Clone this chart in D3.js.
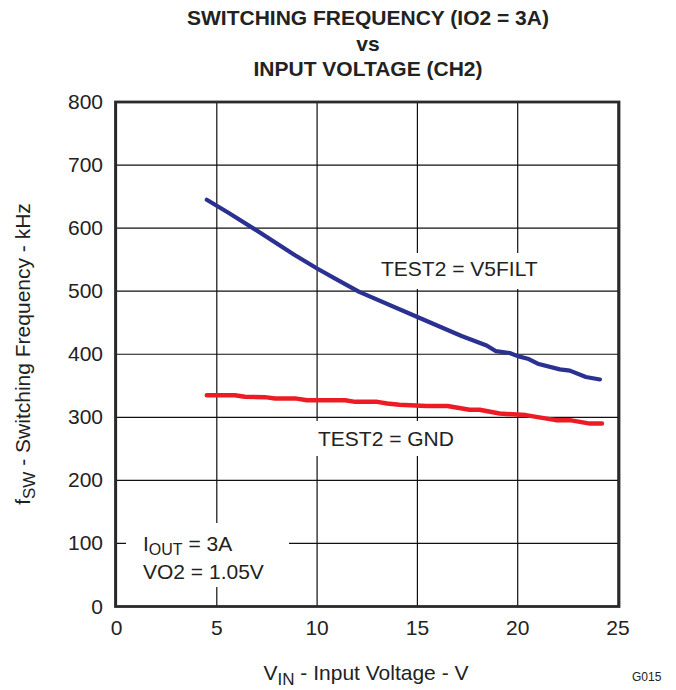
<!DOCTYPE html>
<html><head><meta charset="utf-8">
<script src="https://cdn.jsdelivr.net/npm/d3@7"></script>
<style>body{margin:0;background:#fff}svg{display:block;font-family:"Liberation Sans",Arial,Helvetica,sans-serif}</style>
</head><body>
<svg id="c" width="676" height="690"></svg>
<script>
const xTicks = [0, 5, 10, 15, 20, 25];
const yTicks = [0, 100, 200, 300, 400, 500, 600, 700, 800];
const vinBlue = [4.5, 5.6, 6.9, 8.9, 10.0, 10.9, 12.1, 15.0, 17.2, 18.45, 18.9, 19.6, 20.0, 20.5, 21.0, 22.1, 22.6, 23.4, 24.1];
const fswV5FILT = [645, 624, 598, 557, 536, 520, 499, 459, 429, 414, 405, 402, 397, 393, 385, 376, 374, 364, 360];
const vinRed = [4.5, 5.9, 6.4, 7.4, 7.9, 8.9, 9.5, 11.4, 11.9, 13.0, 13.5, 14.1, 15.45, 16.5, 17.6, 18.1, 19.1, 20.4, 21.9, 22.6, 23.6, 24.2];
const fswGND = [335, 335, 332.5, 332, 330, 330, 327, 327, 324.5, 324.5, 322, 320, 318, 318, 312, 312, 306, 303.5, 295.5, 295.5, 290, 290];

const svg = d3.select("#c");
const L = 116.5, R = 618, T = 102, B = 606.5;
const x = d3.scaleLinear().domain([0, 25]).range([L, R]);
const y = d3.scaleLinear().domain([0, 800]).range([B, T]);

// grid
const g = svg.append("g");
g.selectAll("line.v").data(xTicks).join("line")
  .attr("x1", d => x(d)).attr("x2", d => x(d)).attr("y1", T).attr("y2", B)
  .attr("stroke", "#111").attr("stroke-width", 1.2);
g.selectAll("line.h").data(yTicks).join("line")
  .attr("x1", L).attr("x2", R).attr("y1", d => y(d)).attr("y2", d => y(d))
  .attr("stroke", "#111").attr("stroke-width", 1.2);

// white boxes behind annotations
const boxes = [[375, 253, 170, 36], [312, 421, 154, 35], [126, 523, 163, 64]];
svg.selectAll("rect.bx").data(boxes).join("rect")
  .attr("x", d => d[0]).attr("y", d => d[1]).attr("width", d => d[2]).attr("height", d => d[3])
  .attr("fill", "#fff");

// frame
svg.append("rect").attr("x", L - 1).attr("y", T).attr("width", R - L + 2).attr("height", B - T)
  .attr("fill", "none").attr("stroke", "#2a2a2a").attr("stroke-width", 2.8);

// lines
const line = d3.line().x(d => x(d[0])).y(d => y(d[1]));
svg.append("path").datum(vinBlue.map((v, i) => [v, fswV5FILT[i]]))
  .attr("d", line).attr("fill", "none").attr("stroke", "#2b3190").attr("stroke-width", 4.2)
  .attr("stroke-linecap", "round").attr("stroke-linejoin", "round");
svg.append("path").datum(vinRed.map((v, i) => [v, fswGND[i]]))
  .attr("d", line).attr("fill", "none").attr("stroke", "#ed1c24").attr("stroke-width", 4.5)
  .attr("stroke-linecap", "round").attr("stroke-linejoin", "round");

// tick labels
const fs = 21;
svg.selectAll("text.xt").data(xTicks).join("text")
  .attr("x", d => x(d)).attr("y", 635).attr("text-anchor", "middle")
  .attr("font-size", fs).attr("fill", "#222").text(d => d);
svg.selectAll("text.yt").data(yTicks).join("text")
  .attr("x", 103).attr("y", d => y(d) + 7).attr("text-anchor", "end")
  .attr("font-size", fs).attr("fill", "#222").text(d => d);

// title
const titles = ["SWITCHING FREQUENCY (IO2 = 3A)", "vs", "INPUT VOLTAGE (CH2)"];
svg.selectAll("text.tt").data(titles).join("text")
  .attr("x", 368).attr("y", (d, i) => 25 + i * 25.5).attr("text-anchor", "middle")
  .attr("font-size", 21).attr("font-weight", "bold").attr("fill", "#222").text(d => d);

// annotations
svg.append("text").attr("x", 381).attr("y", 276).attr("font-size", fs).attr("fill", "#222").text("TEST2 = V5FILT");
svg.append("text").attr("x", 318).attr("y", 446).attr("font-size", fs).attr("fill", "#222").text("TEST2 = GND");
const t1 = svg.append("text").attr("x", 143).attr("y", 551).attr("font-size", fs).attr("fill", "#222");
t1.append("tspan").text("I");
t1.append("tspan").attr("font-size", 16).attr("dy", 4).text("OUT");
t1.append("tspan").attr("dy", -4).text(" = 3A");
svg.append("text").attr("x", 143).attr("y", 579).attr("font-size", fs).attr("fill", "#222").text("VO2 = 1.05V");

// axis titles
const xl = svg.append("text").attr("x", 366).attr("y", 680).attr("text-anchor", "middle").attr("font-size", fs).attr("fill", "#222");
xl.append("tspan").text("V");
xl.append("tspan").attr("font-size", 17).attr("dy", 5).text("IN");
xl.append("tspan").attr("dy", -5).text(" - Input Voltage - V");

const yl = svg.append("text").attr("transform", "translate(30,354) rotate(-90)")
  .attr("text-anchor", "middle").attr("font-size", fs).attr("fill", "#222");
yl.append("tspan").text("f");
yl.append("tspan").attr("font-size", 17).attr("dy", 5).text("SW");
yl.append("tspan").attr("dy", -5).text(" - Switching Frequency - kHz");

svg.append("text").attr("x", 632).attr("y", 681).attr("font-size", 12).attr("fill", "#222").text("G015");
</script>
</body></html>
